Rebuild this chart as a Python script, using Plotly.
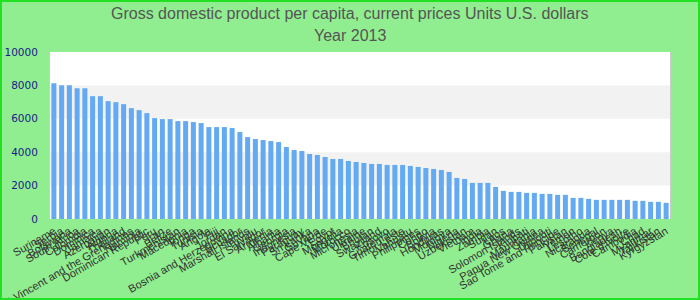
import plotly.graph_objects as go

countries = [
    "Suriname", "Serbia", "Botswana", "South Africa", "Colombia", "Dominica", "Jamaica",
    "Azerbaijan", "Algeria", "Thailand", "Saint Vincent and the Grenadines", "Namibia",
    "Dominican Republic", "Peru", "Iran", "Belize", "Turkmenistan", "Macedonia", "Tonga",
    "Tunisia", "Angola", "Fiji", "Jordan", "Bosnia and Herzegovina", "Ecuador",
    "Marshall Islands", "Tuvalu", "El Salvador", "Armenia", "Albania", "Georgia",
    "Indonesia", "Paraguay", "Sri Lanka", "Guyana", "Cape Verde", "Egypt", "Mongolia",
    "Morocco", "Micronesia", "Ukraine", "Bhutan", "Swaziland", "Kosovo", "Guatemala",
    "Timor-Leste", "Vanuatu", "Philippines", "Congo", "Bolivia", "Honduras", "Moldova",
    "Nigeria", "Uzbekistan", "Vietnam", "India", "Zambia", "Sudan", "Laos", "Ghana",
    "Solomon Islands", "Kiribati", "Mauritania", "Papua New Guinea", "Djibouti",
    "Sao Tome and Principe", "Pakistan", "Yemen", "Lesotho", "Nicaragua", "Senegal",
    "Cameroon", "Kenya", "Bangladesh", "Cote d'Ivoire", "Cambodia", "Chad", "Myanmar",
    "Tajikistan", "Kyrgyzstan",
]

gdp_per_capita = [
    8131, 8012, 8012, 7833, 7833, 7355, 7355, 7057, 6997, 6878,
    6639, 6520, 6341, 6042, 5982, 5982, 5863, 5863, 5803, 5743,
    5504, 5504, 5504, 5445, 5206, 4907, 4788, 4728, 4668, 4609,
    4310, 4131, 4071, 3892, 3833, 3713, 3594, 3594, 3474, 3415,
    3355, 3296, 3296, 3236, 3236, 3236, 3176, 3116, 3057, 2997,
    2937, 2818, 2460, 2400, 2161, 2161, 2161, 1922, 1684, 1624,
    1624, 1564, 1564, 1504, 1504, 1445, 1445, 1266, 1266, 1206,
    1146, 1146, 1146, 1146, 1146, 1087, 1087, 1027, 1027, 967,
]

y_ticks = [0, 2000, 4000, 6000, 8000, 10000]
band_ranges = [(2000, 4000), (6000, 8000)]
title_lines = ["Gross domestic product per capita, current prices Units U.S. dollars", "Year 2013"]

W, H = 700, 300
ML, MR, MT, MB = 50, 30, 52, 81
PW, PH = W - ML - MR, H - MT - MB

fig = go.Figure(go.Bar(
    x=countries,
    y=gdp_per_capita,
    marker=dict(color="#64aaf2", line=dict(width=0)),
))

shapes = [
    dict(type="rect", xref="paper", yref="y", x0=0, x1=1, y0=a, y1=b,
         fillcolor="#f2f2f2", line=dict(width=0), layer="below")
    for a, b in band_ranges
]
# outer green border of the chart container
shapes.append(dict(
    type="rect", xref="paper", yref="paper",
    x0=(-ML + 1) / PW, x1=(W - ML - 1) / PW,
    y0=(-MB + 1) / PH, y1=(H - MB - 1) / PH,
    line=dict(color="#22e022", width=2), fillcolor="rgba(0,0,0,0)", layer="above",
))

title_y_px = [13, 36]
annotations = [
    dict(text=t, xref="paper", yref="paper", x=(W / 2 - ML) / PW,
         y=(H - MB - yp) / PH, xanchor="center", yanchor="middle", showarrow=False,
         font=dict(family="Liberation Sans, Arial, sans-serif", size=16, color="#555555"))
    for t, yp in zip(title_lines, title_y_px)
]

fig.update_layout(
    width=W, height=H,
    paper_bgcolor="#90ee90",
    plot_bgcolor="#ffffff",
    margin=dict(l=ML, r=MR, t=MT, b=MB, pad=0, autoexpand=False),
    bargap=0.35,
    shapes=shapes,
    annotations=annotations,
    showlegend=False,
    xaxis=dict(
        type="category", tickmode="linear", dtick=1, tickangle=-30, automargin=False,
        tickfont=dict(family="Liberation Sans, Arial, sans-serif", size=11, color="#333333"),
        showgrid=False, ticks="", showline=False, zeroline=False,
        ticklabelstandoff=3,
    ),
    yaxis=dict(
        range=[0, 10000], tickvals=y_ticks, ticktext=[str(v) for v in y_ticks],
        automargin=False,
        tickfont=dict(family="DejaVu Sans, sans-serif", size=10.5, color="#1a1a8a"),
        showgrid=False, zeroline=False,
        showline=True, mirror=True, linecolor="#cccccc", linewidth=1,
        ticks="", ticklen=0, ticklabelstandoff=9,
    ),
)

fig.write_html("out.html")
